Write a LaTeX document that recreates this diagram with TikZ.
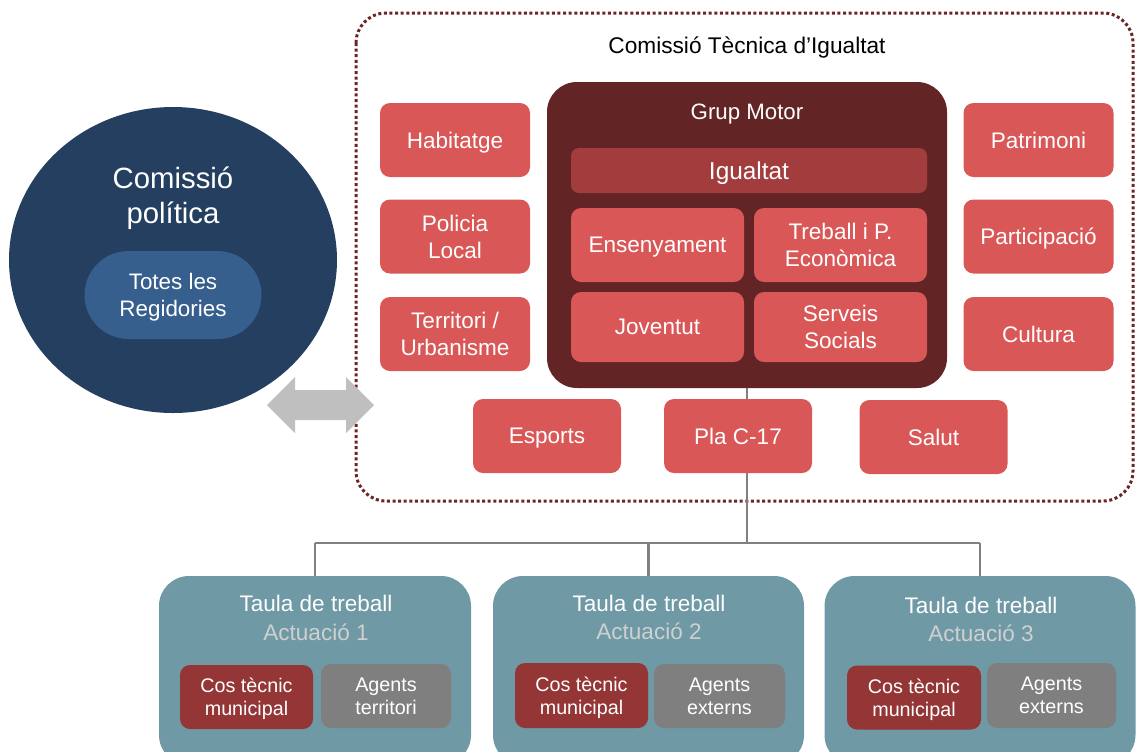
\documentclass[tikz,border=0pt]{standalone}
\usepackage{fontspec}
\setmainfont{Liberation Sans}
\usetikzlibrary{shapes.geometric}
\newdimen\pxu \pxu=0.75pt
\newcommand\pxfont[2]{\fontsize{#1}{#2}\selectfont}
\definecolor{boxred}{HTML}{D95757}
\definecolor{igured}{HTML}{A33D3D}
\definecolor{gmred}{HTML}{622424}
\definecolor{framered}{HTML}{6B2525}
\definecolor{navy}{HTML}{243F5F}
\definecolor{pillblue}{HTML}{365F8D}
\definecolor{arrowgray}{HTML}{BFBFBF}
\definecolor{teal}{HTML}{6E99A5}
\definecolor{cosred}{HTML}{943636}
\definecolor{aggray}{HTML}{7F7F7F}
\definecolor{linegray}{HTML}{808080}
\definecolor{actgray}{HTML}{D0D0D0}
\begin{document}
\begin{tikzpicture}[x=0.75pt,y=-0.75pt,
  box/.style={fill=boxred, rounded corners=10\pxu, inner sep=0pt, align=center, text=white, text depth=0pt, font=\pxfont{16.9pt}{20.25pt}},
  sbox/.style={box, minimum width=150\pxu, minimum height=74\pxu},
  bbox/.style={box, minimum width=148\pxu, minimum height=74\pxu},
  ibox/.style={box, minimum width=173\pxu, minimum height=74\pxu},
  jbox/.style={box, minimum width=173\pxu, minimum height=70\pxu},
  taula/.style={fill=teal, rounded corners=30\pxu, inner sep=0pt, minimum width=311\pxu, minimum height=189\pxu},
  ttext/.style={text=white, inner sep=0pt, text depth=0pt, font=\pxfont{16.9pt}{20.25pt}},
  atext/.style={text=actgray, inner sep=0pt, text depth=0pt, font=\pxfont{16.9pt}{20.25pt}},
  small/.style={rounded corners=10\pxu, inner sep=0pt, align=center, text=white, text depth=0pt, font=\pxfont{14.8pt}{17.25pt}, minimum width=133\pxu, minimum height=64\pxu},
  cos/.style={small, fill=cosred},
  ag/.style={small, fill=aggray},
  conn/.style={draw=linegray, line width=2.5\pxu},
  framedot/.style={draw=framered, line width=3\pxu, dash pattern=on 3\pxu off 2.6\pxu, rounded corners=30\pxu}
]
\useasboundingbox (0,0) rectangle (1136,751);
\clip (0,0) rectangle (1136,751);

% frame of Comissio Tecnica
\draw[framedot] (356,13) rectangle (1133,501);
\node[inner sep=0pt, text depth=0pt, font=\pxfont{17pt}{20pt}] (title) at (747,45) {Comissió Tècnica d’Igualtat};

% Comissio politica
\node[ellipse, fill=navy, minimum width=328\pxu, minimum height=306\pxu, inner sep=0pt] (cp) at (173,260) {};
\node[align=center, text=white, inner sep=0pt, text depth=0pt, font=\pxfont{22pt}{26.25pt}] (cpt) at (173,195) {Comissió\\política};
\node[fill=pillblue, rounded corners=44\pxu, minimum width=177\pxu, minimum height=88\pxu, inner sep=0pt, align=center, text=white, text depth=0pt, font=\pxfont{16.8pt}{20.25pt}] (pill) at (173,295) {Totes les\\Regidories};

% double arrow
\fill[arrowgray] (267,405) -- (295,377) -- (295,390) -- (346,390) -- (346,377) -- (374,405) -- (346,433) -- (346,420) -- (295,420) -- (295,433) -- cycle;

% connectors
\coordinate (hub) at (747,543);
\coordinate (hl) at (315,543);
\coordinate (hm) at (648.5,543);
\coordinate (hr) at (980,543);

% Grup Motor
\node[fill=gmred, rounded corners=30\pxu, minimum width=400\pxu, minimum height=306\pxu, inner sep=0pt] (gm) at (747,235) {};
\draw[conn] (gm.south) -- (hub);
\draw[conn] (hl) -- (hr);
\node[text=white, inner sep=0pt, text depth=0pt, font=\pxfont{16.7pt}{20pt}] (gmt) at (747,112) {Grup Motor};
\node[fill=igured, rounded corners=8\pxu, minimum width=356\pxu, minimum height=45\pxu, inner sep=0pt, text=white, text depth=0pt, font=\pxfont{18.3pt}{22pt}] (igu) at (749,170.5) {Igualtat};
\node[ibox] (ens) at (657.5,245) {Ensenyament};
\node[ibox] (tre) at (840.5,245) {Treball i P.\\Econòmica};
\node[jbox] (jov) at (657.5,327) {Joventut};
\node[jbox] (ser) at (840.5,327) {Serveis\\Socials};

% side boxes
\node[sbox] (hab) at (455,140) {Habitatge};
\node[sbox] (pol) at (455,236.5) {Policia\\Local};
\node[sbox] (ter) at (455,334) {Territori /\\Urbanisme};
\node[sbox] (pat) at (1038.5,140) {Patrimoni};
\node[sbox] (par) at (1038.5,236.5) {Participació};
\node[sbox] (cul) at (1038.5,334) {Cultura};

% bottom row
\node[bbox] (esp) at (547,436) {Esports};
\node[bbox] (pla) at (738,436) {Pla C-17};
\node[bbox] (sal) at (933.5,437) {Salut};

% taules
\node[taula, minimum width=312\pxu] (t1) at (315,670.5) {};
\node[taula] (t2) at (648.5,670.5) {};
\node[taula] (t3) at (980,670.5) {};
\draw[conn] (hl) -- (t1.north);
\draw[conn] (hm) -- (t2.north);
\draw[conn] (hr) -- (t3.north);

\node[ttext] (t1a) at (316,603) {Taula de treball};
\node[atext] (t1b) at (316,632) {Actuació 1};
\node[cos] (cos1) at (246.5,697) {Cos tècnic\\municipal};
\node[ag, minimum width=130\pxu] (ag1) at (386,696) {Agents\\territori};

\node[ttext] (t2a) at (649,603) {Taula de treball};
\node[atext] (t2b) at (649,631) {Actuació 2};
\node[cos, minimum height=65\pxu] (cos2) at (581.5,695.5) {Cos tècnic\\municipal};
\node[ag, minimum width=131\pxu] (ag2) at (719.5,696) {Agents\\externs};

\node[ttext] (t3a) at (981,605) {Taula de treball};
\node[atext] (t3b) at (981,633) {Actuació 3};
\node[cos, minimum width=134\pxu] (cos3) at (914,697.5) {Cos tècnic\\municipal};
\node[ag, minimum width=129\pxu, minimum height=65\pxu] (ag3) at (1051.5,695.5) {Agents\\externs};
\end{tikzpicture}
\end{document}
